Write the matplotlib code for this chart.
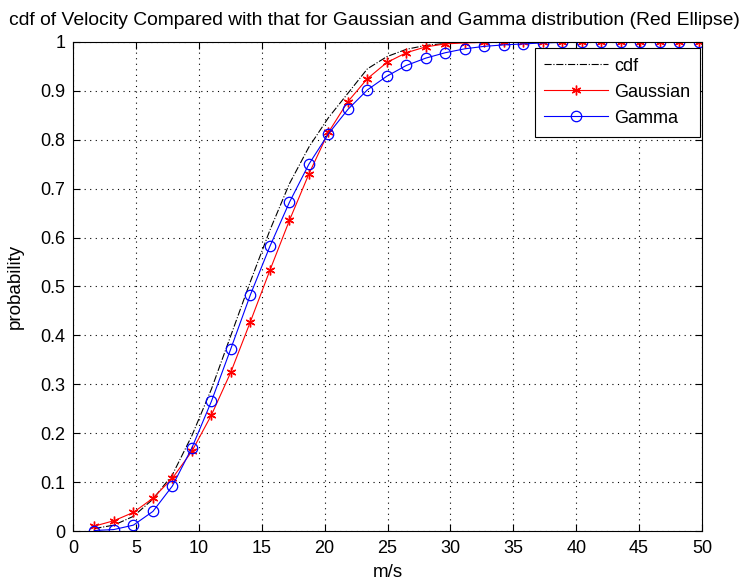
import matplotlib
matplotlib.use("Agg")
import matplotlib.pyplot as plt

plt.rcParams['font.family'] = ['Liberation Sans', 'DejaVu Sans']

# speed bins (m/s)
speed = [1.7, 3.25, 4.8, 6.35, 7.9, 9.45, 11.0, 12.55, 14.1, 15.65, 17.2,
         18.75, 20.3, 21.85, 23.4, 24.95, 26.5, 28.05, 29.6, 31.15, 32.7,
         34.25, 35.8, 37.35, 38.9, 40.45, 42.0, 43.55, 45.1, 46.65, 48.2, 49.75]

cdf = [0.005, 0.012, 0.03, 0.065, 0.115, 0.195, 0.29, 0.40, 0.51, 0.615, 0.71,
       0.785, 0.845, 0.895, 0.945, 0.97, 0.985, 0.993, 0.997, 1.0, 1.0,
       1.0, 1.0, 1.0, 1.0, 1.0, 1.0, 1.0, 1.0, 1.0, 1.0, 1.0]

gaussian = [0.010, 0.021, 0.038, 0.067, 0.108, 0.163, 0.237, 0.325, 0.428, 0.533, 0.635,
            0.73, 0.815, 0.878, 0.925, 0.958, 0.978, 0.99, 0.996, 0.998, 0.999,
            1.0, 1.0, 1.0, 1.0, 1.0, 1.0, 1.0, 1.0, 1.0, 1.0, 1.0]

gamma = [0.001, 0.003, 0.012, 0.04, 0.092, 0.17, 0.265, 0.373, 0.483, 0.582, 0.672,
         0.75, 0.812, 0.862, 0.902, 0.93, 0.952, 0.967, 0.978, 0.986, 0.991,
         0.994, 0.996, 0.998, 0.999, 1.0, 1.0, 1.0, 1.0, 1.0, 1.0, 1.0]

xticks = [0, 5, 10, 15, 20, 25, 30, 35, 40, 45, 50]
yticks = [0, 0.1, 0.2, 0.3, 0.4, 0.5, 0.6, 0.7, 0.8, 0.9, 1]
ytick_labels = ['0', '0.1', '0.2', '0.3', '0.4', '0.5', '0.6', '0.7', '0.8', '0.9', '1']

fig = plt.figure(figsize=(7.45, 5.85), dpi=100)
ax = fig.add_axes([0.098, 0.0923, 0.8443, 0.836])

ax.plot(speed, cdf, color='black', linestyle='-.', linewidth=0.8, label='cdf')
ax.plot(speed, gaussian, color='red', linewidth=0.8, marker=(6, 2, 0),
        markersize=7, markeredgewidth=1.0, label='Gaussian')
ax.plot(speed, gamma, color='blue', linewidth=0.8, marker='o', markersize=7.5,
        markerfacecolor='none', markeredgewidth=0.9, label='Gamma')

ax.set_xlim(0, 50)
ax.set_ylim(0, 1)
ax.set_xticks(xticks)
ax.set_yticks(yticks)
ax.set_yticklabels(ytick_labels)
ax.tick_params(direction='in', top=True, right=True, length=5, labelsize=13)
ax.tick_params(axis='x', pad=6.5)
ax.tick_params(axis='y', pad=5.5)
ax.grid(True, color='black', linestyle=(0, (1, 4)), linewidth=0.8)
for s in ax.spines.values():
    s.set_linewidth(0.8)

ax.set_title('cdf of Velocity Compared with that for Gaussian and Gamma distribution (Red Ellipse)',
             fontsize=13.9, pad=12, x=0.4785)
ax.set_xlabel('m/s', fontsize=13.5, labelpad=5)
ax.set_ylabel('probability', fontsize=13.5)
ax.yaxis.set_label_coords(-0.078, 0.5)

leg = ax.legend(loc='upper right', fontsize=13, fancybox=False, framealpha=1,
                edgecolor='black', handlelength=3.5, handletextpad=0.35,
                borderpad=0.55, labelspacing=0.5, borderaxespad=0,
                bbox_to_anchor=(0.9968, 0.988))
leg.get_frame().set_linewidth(0.8)

fig.savefig('out.png', dpi=100)
